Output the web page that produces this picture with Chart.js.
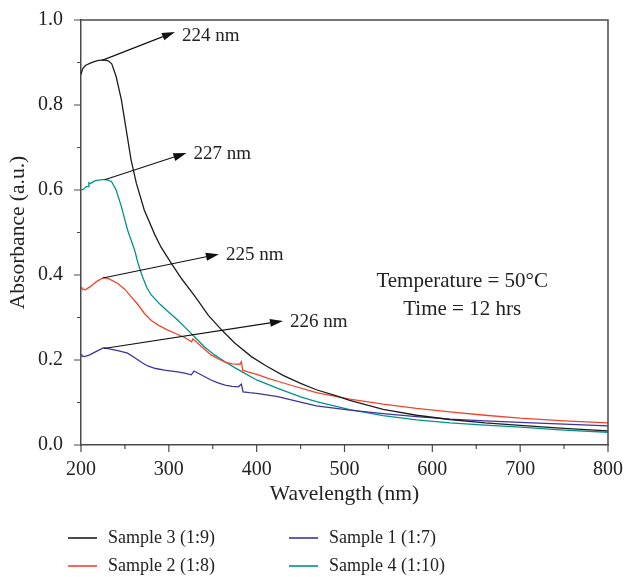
<!DOCTYPE html>
<html lang="en">
<head>
<meta charset="UTF-8" />
<title>Absorbance spectra</title>
<script src="https://cdn.jsdelivr.net/npm/chart.js"></script>
<style>
  html, body { margin: 0; padding: 0; background: #fff; }
  #wrap { width: 625px; height: 577px; }
</style>
</head>
<body>
<div id="wrap"><canvas id="uvChart" width="625" height="577"></canvas></div>
<script>
  // series labels and colours
  const seriesLabels = ['Sample 3 (1:9)', 'Sample 2 (1:8)', 'Sample 1 (1:7)', 'Sample 4 (1:10)'];
  const seriesColors = ['#1e1e1e', '#f3432a', '#3d33a3', '#00928a'];

  // Sample 3 (black)
  const wl3 = [200, 202, 205, 210, 215, 220, 226, 231, 235, 240, 246, 252, 257, 263, 272, 284, 291, 303, 315, 330, 345, 360, 375, 394, 410, 430, 450, 468, 490, 506, 544, 582, 620, 660, 700, 750, 800];
  const abs3 = [0.872, 0.886, 0.893, 0.898, 0.902, 0.905, 0.906, 0.904, 0.897, 0.867, 0.812, 0.735, 0.671, 0.616, 0.553, 0.495, 0.466, 0.427, 0.390, 0.349, 0.305, 0.271, 0.240, 0.208, 0.187, 0.164, 0.145, 0.130, 0.116, 0.105, 0.084, 0.070, 0.060, 0.052, 0.046, 0.039, 0.033];

  // Sample 2 (red)
  const wl2 = [200, 201, 205, 210, 218, 226, 232, 242, 250, 257, 265, 272, 280, 288, 297, 307, 318, 326, 327.5, 337, 348, 356, 364, 372, 381, 382.6, 384, 390, 402, 413, 424, 440, 468, 506, 544, 582, 620, 660, 700, 750, 800];
  const abs2 = [0.372, 0.368, 0.365, 0.372, 0.385, 0.394, 0.391, 0.380, 0.366, 0.349, 0.330, 0.310, 0.293, 0.282, 0.272, 0.263, 0.253, 0.243, 0.250, 0.232, 0.212, 0.203, 0.195, 0.191, 0.190, 0.196, 0.176, 0.172, 0.165, 0.157, 0.150, 0.140, 0.123, 0.108, 0.096, 0.086, 0.078, 0.070, 0.063, 0.057, 0.052];

  // Sample 1 (blue)
  const wl1 = [200, 201, 204, 210, 218, 226, 232, 242, 253, 260, 265, 270, 276, 285, 295, 310, 318, 325.6, 328.7, 335, 348, 356, 364, 372, 379, 382.6, 384.5, 392, 402, 424, 450, 468, 506, 544, 582, 620, 660, 700, 750, 800];
  const abs1 = [0.213, 0.210, 0.208, 0.212, 0.221, 0.229, 0.226, 0.222, 0.216, 0.207, 0.200, 0.193, 0.186, 0.180, 0.176, 0.172, 0.169, 0.165, 0.174, 0.167, 0.153, 0.146, 0.141, 0.138, 0.137, 0.143, 0.125, 0.123, 0.121, 0.114, 0.101, 0.092, 0.082, 0.074, 0.067, 0.061, 0.057, 0.053, 0.049, 0.045];

  // Sample 4 (teal)
  const wl4 = [200, 203, 206, 208, 209, 210, 213, 216, 222, 227, 231, 235, 240, 246, 253, 261, 265, 270, 275, 280, 290, 299, 310, 318, 330, 341, 352, 364, 375, 386, 400, 424, 450, 468, 506, 544, 582, 620, 660, 700, 750, 800];
  const abs4 = [0.600, 0.602, 0.608, 0.608, 0.617, 0.615, 0.618, 0.622, 0.624, 0.625, 0.623, 0.619, 0.600, 0.561, 0.506, 0.459, 0.427, 0.396, 0.370, 0.353, 0.331, 0.314, 0.294, 0.278, 0.253, 0.230, 0.212, 0.196, 0.182, 0.169, 0.153, 0.133, 0.113, 0.102, 0.083, 0.069, 0.059, 0.052, 0.047, 0.042, 0.035, 0.030];

  // peak annotations (arrow from peak to label, in data units)
  const peakLabels = ['224 nm', '227 nm', '225 nm', '226 nm'];
  const arrowFromX = [224, 227, 225, 226];
  const arrowFromY = [0.905, 0.624, 0.393, 0.227];
  const arrowToX = [307, 320, 357, 430];
  const arrowToY = [0.972, 0.687, 0.449, 0.292];

  const noteLines = ['Temperature = 50°C', 'Time = 12 hrs'];
  const noteX = 634;
  const noteY = [0.384, 0.320];

  const FONT = '"Liberation Serif", "DejaVu Serif", serif';
  const AXIS = '#4a4a4a';

  function pts(xs, ys) {
    return xs.map((x, i) => ({ x: x, y: ys[i] }));
  }

  const datasets = [pts(wl3, abs3), pts(wl2, abs2), pts(wl1, abs1), pts(wl4, abs4)].map((d, i) => ({
    label: seriesLabels[i],
    data: d,
    borderColor: seriesColors[i],
    backgroundColor: seriesColors[i],
    borderWidth: 1.3,
    pointRadius: 0,
    tension: 0,
    fill: false
  }));

  // ticks, frame, arrows, notes and legend
  const extras = {
    id: 'extras',
    afterDraw(chart) {
      const ctx = chart.ctx;
      const xs = chart.scales.x, ys = chart.scales.y;
      const a = chart.chartArea;
      ctx.save();

      // frame top + right
      ctx.strokeStyle = AXIS;
      ctx.lineWidth = 1.5;
      ctx.beginPath();
      ctx.moveTo(a.left, a.top); ctx.lineTo(a.right, a.top); ctx.lineTo(a.right, a.bottom);
      ctx.stroke();

      // tick marks, outward
      ctx.lineWidth = 1.2;
      ctx.beginPath();
      for (let v = 200; v <= 800; v += 50) {
        const px = xs.getPixelForValue(v);
        const len = v % 100 === 0 ? 7 : 4;
        ctx.moveTo(px, a.bottom); ctx.lineTo(px, a.bottom + len);
      }
      for (let k = 0; k <= 10; k++) {
        const py = ys.getPixelForValue(k / 10);
        const len = k % 2 === 0 ? 7 : 4;
        ctx.moveTo(a.left, py); ctx.lineTo(a.left - len, py);
      }
      ctx.stroke();

      // arrows
      ctx.strokeStyle = '#111';
      ctx.fillStyle = '#111';
      ctx.lineWidth = 1.1;
      ctx.font = '19px ' + FONT;
      ctx.textBaseline = 'middle';
      ctx.textAlign = 'left';
      for (let i = 0; i < peakLabels.length; i++) {
        const x0 = xs.getPixelForValue(arrowFromX[i]), y0 = ys.getPixelForValue(arrowFromY[i]);
        const x1 = xs.getPixelForValue(arrowToX[i]), y1 = ys.getPixelForValue(arrowToY[i]);
        const ang = Math.atan2(y1 - y0, x1 - x0);
        const hl = 13, hw = 4;
        const bx = x1 - hl * Math.cos(ang), by = y1 - hl * Math.sin(ang);
        ctx.beginPath();
        ctx.moveTo(x0, y0); ctx.lineTo(bx, by);
        ctx.stroke();
        ctx.beginPath();
        ctx.moveTo(x1, y1);
        ctx.lineTo(bx + hw * Math.sin(ang), by - hw * Math.cos(ang));
        ctx.lineTo(bx - hw * Math.sin(ang), by + hw * Math.cos(ang));
        ctx.closePath();
        ctx.fill();
        ctx.fillStyle = '#222';
        ctx.fillText(peakLabels[i], x1 + 7, y1 + (i === 0 ? 4 : 1));
        ctx.fillStyle = '#111';
      }

      // condition notes
      ctx.font = '21px ' + FONT;
      ctx.textAlign = 'center';
      ctx.fillStyle = '#222';
      noteLines.forEach((t, i) => {
        ctx.fillText(t, xs.getPixelForValue(noteX), ys.getPixelForValue(noteY[i]));
      });

      // legend, two columns
      const colLine = [68, 289], colText = [108, 329];
      const rowY = [538, 566];
      const col = [0, 0, 1, 1], row = [0, 1, 0, 1];
      ctx.font = '18px ' + FONT;
      ctx.textAlign = 'left';
      ctx.lineWidth = 1.6;
      chart.data.datasets.forEach((ds, i) => {
        const y = rowY[row[i]];
        ctx.strokeStyle = ds.borderColor;
        ctx.beginPath();
        ctx.moveTo(colLine[col[i]], y); ctx.lineTo(colLine[col[i]] + 29, y);
        ctx.stroke();
        ctx.fillStyle = '#222';
        ctx.fillText(ds.label, colText[col[i]], y);
      });

      ctx.restore();
    }
  };

  new Chart(document.getElementById('uvChart'), {
    type: 'line',
    data: { datasets: datasets },
    options: {
      responsive: false,
      animation: false,
      layout: { padding: { left: 0, right: 17, top: 20, bottom: 66 } },
      plugins: { legend: { display: false }, tooltip: { enabled: false } },
      scales: {
        x: {
          type: 'linear',
          min: 200, max: 800,
          afterFit(s) { s.height = 66; s.paddingLeft = 0; s.paddingRight = 0; },
          border: { color: AXIS, width: 1.5 },
          grid: { drawOnChartArea: false, drawTicks: false, color: 'transparent' },
          ticks: { stepSize: 100, padding: 13, color: '#222', font: { family: FONT, size: 20 } },
          title: { display: true, text: 'Wavelength (nm)', color: '#222', font: { family: FONT, size: 21.5 }, padding: { top: 2, bottom: 4 } }
        },
        y: {
          min: 0, max: 1,
          afterFit(s) { s.width = 81; s.paddingTop = 0; s.paddingBottom = 0; },
          border: { color: AXIS, width: 1.5 },
          grid: { drawOnChartArea: false, drawTicks: false, color: 'transparent' },
          ticks: { stepSize: 0.2, padding: 18, color: '#222', font: { family: FONT, size: 20 }, callback: v => v.toFixed(1) },
          title: { display: true, text: 'Absorbance (a.u.)', color: '#222', font: { family: FONT, size: 21.5 }, padding: { top: 5, bottom: 4 } }
        }
      }
    },
    plugins: [extras]
  });
</script>
</body>
</html>
